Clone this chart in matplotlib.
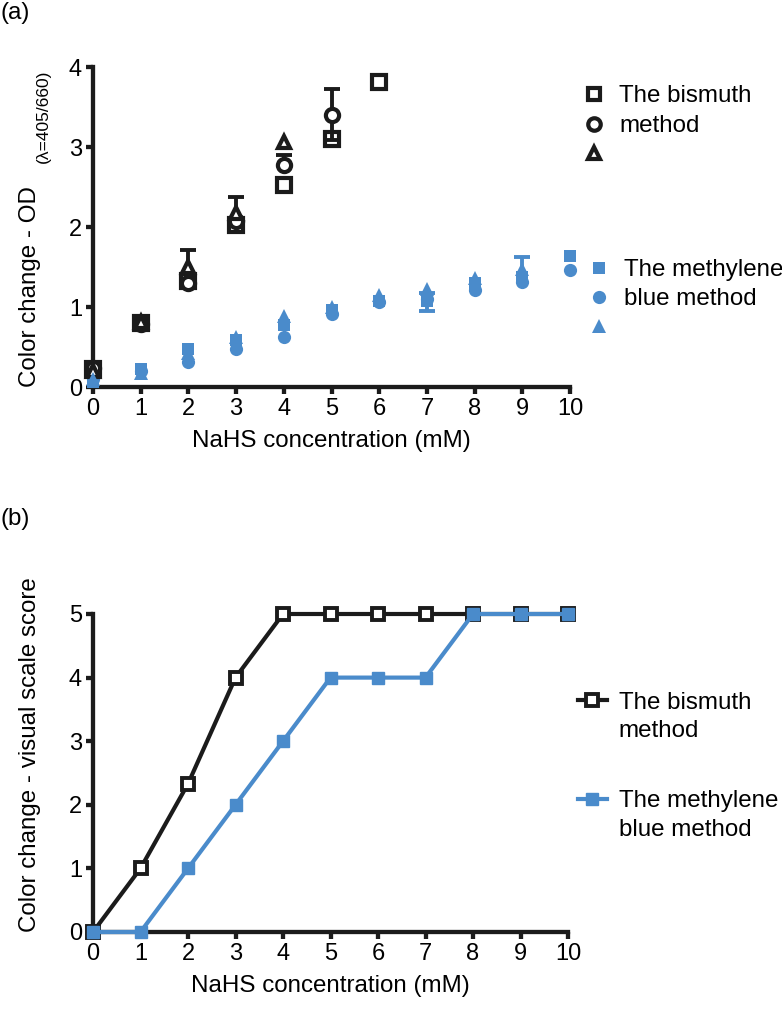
import numpy as np
import matplotlib
matplotlib.use("Agg")
import matplotlib.pyplot as plt
from matplotlib.lines import Line2D

plt.rcParams['font.family'] = ['Liberation Sans', 'DejaVu Sans']

nan = np.nan
conc = [0, 1, 2, 3, 4, 5, 6, 7, 8, 9, 10]
xticks = [0, 1, 2, 3, 4, 5, 6, 7, 8, 9, 10]

# Panel (a): bismuth method replicates (OD); nan error = bar not visible
bis_sq = [0.22, 0.80, 1.33, 2.02, 2.53, 3.10, 3.81, nan, nan, nan, nan]
bis_sq_err_lo = [nan] * 11
bis_sq_err_hi = [nan] * 11
bis_ci = [0.24, 0.79, 1.30, 2.08, 2.77, 3.40, nan, nan, nan, nan, nan]
bis_ci_err_lo = [nan, nan, nan, nan, nan, 0.31, nan, nan, nan, nan, nan]
bis_ci_err_hi = [nan, nan, nan, nan, 0.13, 0.32, nan, nan, nan, nan, nan]
bis_tr = [0.20, 0.81, 1.50, 2.17, 3.06, nan, nan, nan, nan, nan, nan]
bis_tr_err_lo = [nan] * 11
bis_tr_err_hi = [nan, nan, 0.21, 0.20, nan, nan, nan, nan, nan, nan, nan]

# Panel (a): methylene blue method replicates (OD)
mb_sq = [0.06, 0.23, 0.48, 0.59, 0.77, 0.96, 1.08, 1.07, 1.30, 1.38, 1.64]
mb_sq_err_lo = [nan, nan, nan, nan, nan, nan, nan, 0.12, nan, nan, nan]
mb_sq_err_hi = [nan, nan, nan, nan, nan, nan, nan, 0.11, nan, nan, nan]
mb_ci = [0.10, 0.20, 0.31, 0.47, 0.63, 0.91, 1.06, 1.10, 1.21, 1.31, 1.46]
mb_ci_err_lo = [nan] * 11
mb_ci_err_hi = [nan] * 11
mb_tr = [0.10, 0.17, 0.42, 0.63, 0.89, 1.00, 1.15, 1.23, 1.36, 1.48, nan]
mb_tr_err_lo = [nan] * 11
mb_tr_err_hi = [nan, nan, nan, nan, nan, nan, nan, nan, nan, 0.15, nan]

# Panel (b): visual scale score
bis_score = [0, 1, 2.33, 4, 5, 5, 5, 5, 5, 5, 5]
mb_score = [0, 0, 1, 2, 3, 4, 4, 4, 5, 5, 5]

BLACK = '#1b1b1b'
BLUE = '#4a8bcb'
FS = 17.4
TFS = 17
SPW = 3.1
CAP = 11
EW = 2.8

fig = plt.figure(figsize=(7.82, 10.11), dpi=100)

def style_axes(ax, ymax, yticks):
    ax.set_xlim(0, 10)
    ax.set_ylim(0, ymax)
    ax.set_xticks(xticks)
    ax.set_yticks(yticks)
    for s in ['top', 'right']:
        ax.spines[s].set_visible(False)
    for s in ['left', 'bottom']:
        ax.spines[s].set_linewidth(SPW)
        ax.spines[s].set_color(BLACK)
        ax.spines[s].set_capstyle('projecting')
    ax.tick_params(axis='both', length=5, width=SPW, color=BLACK,
                   labelsize=TFS, pad=3)
    ax.set_xlabel('NaHS concentration (mM)', fontsize=FS, labelpad=7)

def series(ax, y, lo, hi, color, marker, ms, mfc, mew, z):
    x = np.array(conc, float)
    y = np.array(y, float)
    lo = np.array(lo, float)
    hi = np.array(hi, float)
    has = np.isfinite(hi) | np.isfinite(lo)
    lo0 = np.where(has, np.nan_to_num(lo), nan)
    hi0 = np.where(has, np.nan_to_num(hi), nan)
    # stems
    ax.errorbar(x, y, yerr=[np.nan_to_num(lo0), np.nan_to_num(hi0)], fmt='none',
                ecolor=color, elinewidth=EW, capsize=0, clip_on=False, zorder=z - 0.5)
    # caps (only where an error value exists on that side)
    ax.plot(x, y + hi, linestyle='none', marker='_', ms=CAP, mew=EW, color=color,
            clip_on=False, zorder=z - 0.5)
    ax.plot(x, y - lo, linestyle='none', marker='_', ms=CAP, mew=EW, color=color,
            clip_on=False, zorder=z - 0.5)
    ax.plot(x, y, linestyle='none', marker=marker, ms=ms, mfc=mfc, mec=color, mew=mew,
            clip_on=False, zorder=z)

# ---------- Panel (a) ----------
ax1 = fig.add_axes([93/782, 1-387/1011, 477/782, 320/1011])
style_axes(ax1, 4, [0, 1, 2, 3, 4])

series(ax1, bis_sq, bis_sq_err_lo, bis_sq_err_hi, BLACK, 's', 9.5, 'white', 3.0, 3)
series(ax1, bis_ci, bis_ci_err_lo, bis_ci_err_hi, BLACK, 'o', 9.5, 'white', 3.0, 4)
series(ax1, bis_tr, bis_tr_err_lo, bis_tr_err_hi, BLACK, '^', 9, 'white', 3.0, 5)
series(ax1, mb_sq, mb_sq_err_lo, mb_sq_err_hi, BLUE, 's', 9, BLUE, 0, 3)
series(ax1, mb_ci, mb_ci_err_lo, mb_ci_err_hi, BLUE, 'o', 9.5, BLUE, 0, 4)
series(ax1, mb_tr, mb_tr_err_lo, mb_tr_err_hi, BLUE, '^', 10, BLUE, 0, 5)

def mk(marker, ms, fc, ec, mew):
    return Line2D([], [], linestyle='none', marker=marker, ms=ms, mfc=fc, mec=ec, mew=mew)

leg1 = ax1.legend(handles=[mk('s', 9, 'white', BLACK, 3.0), mk('o', 9, 'white', BLACK, 3.0),
                           mk('^', 8.5, 'white', BLACK, 3.0)],
                  labels=['The bismuth', 'method', ''],
                  loc='upper left', bbox_to_anchor=(1.025, 0.943), frameon=False,
                  fontsize=FS, handlelength=1.0, handletextpad=0.55, labelspacing=0.32,
                  borderpad=0, borderaxespad=0)
ax1.add_artist(leg1)
leg2 = ax1.legend(handles=[mk('s', 9, BLUE, BLUE, 0), mk('o', 9.5, BLUE, BLUE, 0),
                           mk('^', 10, BLUE, BLUE, 0)],
                  labels=['The methylene', 'blue method', ''],
                  loc='upper left', bbox_to_anchor=(1.035, 0.40), frameon=False,
                  fontsize=FS, handlelength=1.0, handletextpad=0.55, labelspacing=0.3,
                  borderpad=0, borderaxespad=0)

fig.text(30/782, 1-287/1011, 'Color change - OD', rotation=90, ha='center', va='center',
         fontsize=FS)
fig.text(43/782, 1-116/1011, '(λ=405/660)', rotation=90, ha='center', va='center',
         fontsize=12.5)
fig.text(0.0, 1-2/1011, '(a)', ha='left', va='top', fontsize=FS)

# ---------- Panel (b) ----------
ax2 = fig.add_axes([93/782, 1-932/1011, 475/782, 318/1011])
style_axes(ax2, 5, [0, 1, 2, 3, 4, 5])
ax2.plot(conc, mb_score, color=BLUE, lw=3, marker='s', ms=9, mfc=BLUE, mec=BLUE,
         clip_on=False, zorder=3)
ax2.plot(conc, bis_score, color=BLACK, lw=3, marker='s', ms=9, mfc='white', mec=BLACK,
         mew=2.8, clip_on=False, zorder=2)
fig.text(30/782, 1-755/1011, 'Color change - visual scale score', rotation=90,
         ha='center', va='center', fontsize=FS)

blank = Line2D([], [], linestyle='none')
lb1 = ax2.legend(handles=[Line2D([], [], color=BLACK, lw=3, marker='s', ms=9, mfc='white',
                                 mec=BLACK, mew=2.8), blank],
                 labels=['The bismuth', 'method'], loc='upper left',
                 bbox_to_anchor=(1.02, 0.755), frameon=False, fontsize=FS,
                 handlelength=1.2, handletextpad=0.5, labelspacing=0.25,
                 borderpad=0, borderaxespad=0)
ax2.add_artist(lb1)
lb2 = ax2.legend(handles=[Line2D([], [], color=BLUE, lw=3, marker='s', ms=9, mfc=BLUE,
                                 mec=BLUE), blank],
                 labels=['The methylene', 'blue method'], loc='upper left',
                 bbox_to_anchor=(1.02, 0.445), frameon=False, fontsize=FS,
                 handlelength=1.2, handletextpad=0.5, labelspacing=0.25,
                 borderpad=0, borderaxespad=0)
fig.text(0.0, 1-508/1011, '(b)', ha='left', va='top', fontsize=FS)

fig.savefig('out.png', dpi=100)
